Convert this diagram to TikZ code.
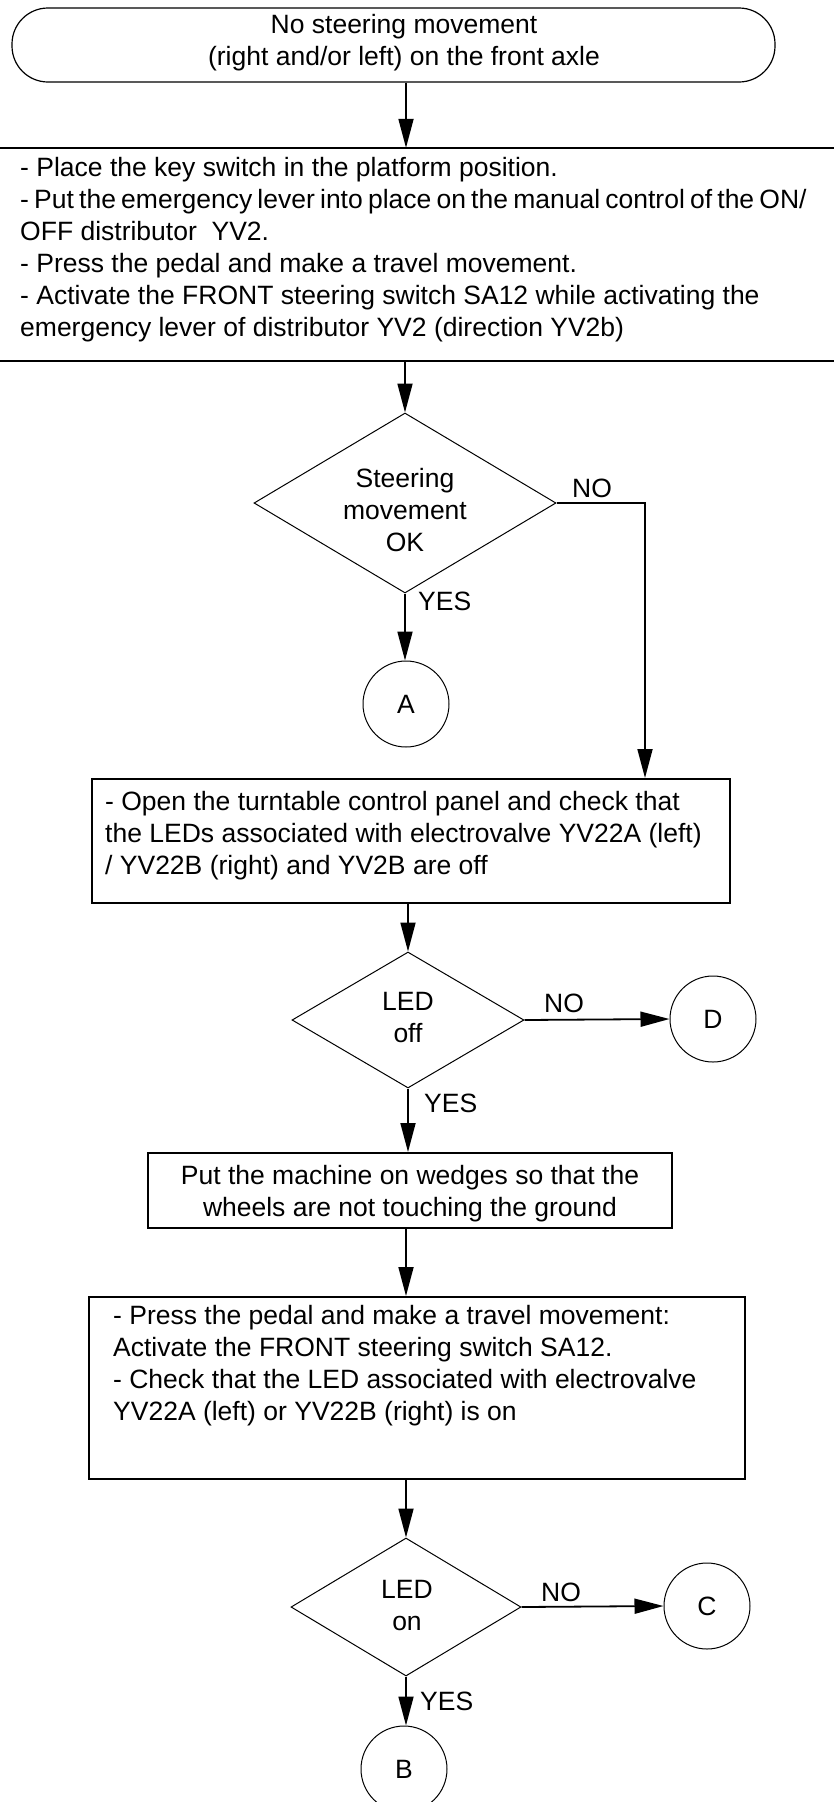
\documentclass[tikz,border=0pt]{standalone}
\usepackage{fontspec}
\setmainfont{Liberation Sans}
\usetikzlibrary{shapes.geometric,arrows.meta}
\newcommand\mystrut{\rule{0pt}{22pt}}
\begin{document}
\begin{tikzpicture}[x=1pt,y=-1pt,
  conn/.style={line width=1.8pt,-{Triangle[length=29pt,width=15pt]}},
  plain/.style={line width=1.8pt},
  txt/.style={inner sep=0pt,font=\fontsize{26.5}{32}\selectfont},
  ltxt/.style={txt,align=left,anchor=north west},
  ctxt/.style={txt,align=center,anchor=north},
  lab/.style={txt,anchor=base west},
  decision/.style={diamond,draw,line width=1pt,inner sep=0pt},
  conncircle/.style={circle,draw,line width=1pt,minimum size=86pt,inner sep=0pt,font=\fontsize{26.5}{32}\selectfont},
  stepbox/.style={rectangle,draw,line width=2pt,inner sep=0pt},
]
\useasboundingbox (0,0) rectangle (834,1802);
\coordinate (col) at (406,0);

% start terminal
\node[draw,line width=1.2pt,rounded corners=36pt,minimum width=763pt,minimum height=74pt,inner sep=0pt] (start) at (393.5,45) {};
\node[ctxt] (starttxt) at (404,11) {\mystrut No steering movement\\(right and/or left) on the front axle};

% box 1 (full width band)
\node[inner sep=0pt,minimum width=880pt,minimum height=213pt] (box1) at (417,254.5) {};
\draw[plain] (box1.north west) -- (box1.north east);
\draw[plain] (box1.south west) -- (box1.south east);
\node[ltxt] (box1txt) at (20,154) {\mystrut - Place the key switch in the platform position.\\{\spaceskip=5.2pt\relax - Put the emergency lever into place on the manual control of the ON/}\\OFF distributor\ \ YV2.\\- Press the pedal and make a travel movement.\\- Activate the FRONT steering switch SA12 while activating the\\emergency lever of distributor YV2 (direction YV2b)};

% decision 1
\node[decision,minimum width=302pt,minimum height=180pt] (d1) at (405,503) {};
\node[ctxt] (d1txt) at (405,465) {\mystrut Steering\\movement\\OK};
\node[conncircle] (A) at (406,704) {A};

% box 2
\node[stepbox,minimum width=638pt,minimum height=124pt] (box2) at (411,841) {};
\node[ltxt] (box2txt) at (105,788) {\mystrut - Open the turntable control panel and check that\\the LEDs associated with electrovalve YV22A (left)\\/ YV22B (right) and YV2B are off};

% decision 2
\node[decision,minimum width=232pt,minimum height=136pt] (d2) at (408,1020) {};
\node[ctxt] (d2txt) at (408,988) {\mystrut LED\\off};
\node[conncircle] (D) at (713,1019) {D};

% box 3
\node[stepbox,minimum width=524pt,minimum height=75pt] (box3) at (410,1190.5) {};
\node[ctxt] (box3txt) at (410,1162) {\mystrut Put the machine on wedges so that the\\wheels are not touching the ground};

% box 4
\node[stepbox,minimum width=656pt,minimum height=182pt] (box4) at (417,1388) {};
\node[ltxt] (box4txt) at (113,1302) {\mystrut - Press the pedal and make a travel movement:\\Activate the FRONT steering switch SA12.\\- Check that the LED associated with electrovalve\\YV22A (left) or YV22B (right) is on};

% decision 3
\node[decision,minimum width=230pt,minimum height=138pt] (d3) at (406,1607) {};
\node[ctxt] (d3txt) at (407,1576) {\mystrut LED\\on};
\node[conncircle] (C) at (707,1606) {C};
\node[conncircle] (B) at (404,1769) {B};

% connectors
\draw[conn] (start.south -| col) -- (box1.north -| col);
\draw[conn] (box1.south -| d1.north) -- (d1.north);
\coordinate (no1bend) at (645,503);
\draw[conn] (d1.east) -- (no1bend) -- (no1bend |- box2.north);
\node[lab] (no1) at (572,497) {NO};
\draw[conn] (d1.south) -- (d1.south |- A.north);
\node[lab] (yes1) at (418,610) {YES};

\draw[conn] (box2.south -| d2.north) -- (d2.north);
\draw[conn] (d2.east) -- (D.west);
\node[lab] (no2) at (544,1012) {NO};
\draw[conn] (d2.south) -- (d2.south |- box3.north);
\node[lab] (yes2) at (424,1112) {YES};

\draw[conn] (box3.south -| d3.north) -- (box4.north -| d3.north);
\draw[conn] (box4.south -| d3.north) -- (d3.north);
\draw[conn] (d3.east) -- (C.west);
\node[lab] (no3) at (541,1601) {NO};
\draw[conn] (d3.south) -- (d3.south |- B.north);
\node[lab] (yes3) at (420,1710) {YES};
\end{tikzpicture}
\end{document}
